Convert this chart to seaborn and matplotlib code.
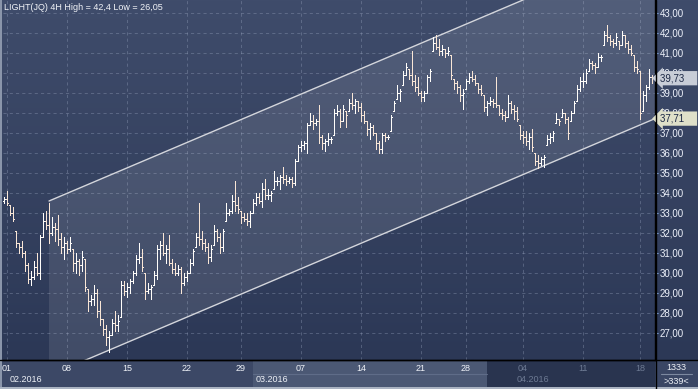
import numpy as np
import matplotlib.pyplot as plt
import seaborn as sns
from matplotlib.colors import LinearSegmentedColormap
from matplotlib.patches import Rectangle
from matplotlib.lines import Line2D
from matplotlib.transforms import blended_transform_factory

# 4H bars (one entry per bar)
highs = [
    33.8, 34.1, 33.4, 33.3, 32.1, 31.5, 31.6, 31.1, 30.5, 30.1,
    30.6, 31.0, 31.9, 33.0, 33.1, 33.5, 32.8, 32.5, 32.9, 32.0,
    31.8, 31.6, 31.8, 31.2, 31.0, 30.7, 31.1, 30.7, 29.2, 28.9,
    29.4, 29.2, 28.6, 27.7, 27.4, 27.1, 27.7, 28.1, 27.9, 29.6,
    29.6, 29.5, 29.7, 30.1, 30.9, 31.5, 31.2, 30.0, 29.5, 29.4,
    30.1, 31.4, 31.6, 32.0, 31.4, 31.9, 30.7, 30.5, 30.4, 30.3,
    30.0, 30.1, 30.7, 31.2, 32.0, 33.5, 32.1, 31.7, 31.5, 31.4,
    32.4, 32.2, 32.0, 32.2, 33.5, 33.2, 33.9, 34.6, 33.8, 33.1,
    33.0, 33.0, 33.1, 33.7, 34.0, 34.0, 34.5, 34.7, 34.2, 34.1,
    35.1, 34.8, 34.9, 35.3, 34.9, 34.8, 34.8, 35.7, 36.4, 36.6,
    36.6, 37.5, 38.0, 37.9, 37.7, 38.4, 36.9, 36.7, 37.0, 36.8,
    38.2, 38.4, 38.2, 38.4, 38.1, 38.7, 39.0, 38.7, 38.6, 38.5,
    38.1, 37.6, 37.5, 37.4, 37.0, 36.6, 37.0, 37.0, 36.9, 37.9,
    38.6, 39.4, 39.2, 40.1, 40.5, 40.2, 41.1, 39.9, 39.8, 39.1,
    39.1, 39.9, 40.2, 41.8, 41.9, 41.7, 41.4, 41.2, 41.3, 40.9,
    39.7, 39.6, 39.4, 39.2, 39.7, 40.0, 40.1, 39.9, 39.5, 39.4,
    38.9, 38.6, 38.8, 38.7, 39.8, 38.4, 38.2, 38.1, 38.9, 38.6,
    38.4, 38.3, 37.4, 37.1, 37.1, 37.0, 37.2, 36.0, 35.9, 35.8,
    35.9, 36.9, 37.0, 37.1, 38.0, 37.7, 38.2, 38.0, 37.8, 38.1,
    38.6, 39.4, 39.8, 40.0, 40.2, 40.7, 40.6, 40.5, 41.0, 40.9,
    42.1, 42.4, 41.9, 41.7, 42.0, 41.6, 42.1, 41.9, 41.6, 41.4,
    40.9, 40.6, 40.1, 39.1, 39.4, 40.2, 39.9,
]
lows = [
    33.5, 33.4, 32.9, 32.6, 31.3, 31.0, 30.8, 30.1, 29.5, 29.4,
    29.7, 29.9, 29.7, 31.8, 32.2, 31.5, 31.9, 31.6, 31.4, 31.0,
    30.7, 31.0, 31.1, 30.1, 30.0, 29.9, 30.1, 29.1, 28.1, 28.4,
    28.4, 27.8, 27.4, 26.9, 26.4, 26.05, 26.9, 27.1, 27.1, 27.8,
    28.9, 28.8, 29.0, 29.5, 29.9, 30.5, 30.1, 28.7, 29.0, 28.7,
    29.4, 29.7, 30.7, 30.9, 30.5, 30.4, 30.0, 29.9, 29.9, 29.0,
    29.4, 29.6, 30.0, 30.4, 31.3, 31.4, 31.2, 31.1, 30.5, 30.6,
    31.4, 31.6, 31.0, 31.1, 32.6, 32.9, 33.0, 33.1, 33.0, 32.5,
    32.6, 32.4, 32.3, 33.0, 33.4, 33.5, 33.3, 33.7, 33.7, 33.6,
    34.2, 34.4, 34.2, 34.5, 34.4, 34.5, 34.3, 34.4, 35.6, 36.1,
    36.2, 36.0, 37.4, 37.2, 37.4, 36.5, 36.2, 36.1, 36.4, 36.5,
    36.9, 37.9, 37.3, 37.6, 37.3, 38.1, 38.2, 38.0, 38.1, 37.6,
    37.5, 36.9, 36.7, 36.9, 36.2, 36.0, 36.0, 36.6, 36.7, 37.1,
    38.1, 38.7, 38.6, 39.4, 39.9, 39.7, 39.4, 39.1, 38.9, 38.6,
    38.6, 39.0, 39.6, 41.1, 41.2, 40.9, 40.9, 40.8, 40.9, 39.7,
    39.2, 39.0, 38.6, 38.2, 39.2, 39.5, 39.6, 39.4, 39.0, 38.9,
    38.1, 37.9, 38.4, 38.3, 38.3, 37.9, 37.7, 37.6, 37.8, 38.0,
    37.7, 37.6, 36.7, 36.5, 36.4, 36.2, 36.1, 35.4, 35.25, 35.4,
    35.3, 36.4, 36.5, 36.6, 37.5, 37.4, 37.8, 37.5, 36.7, 37.6,
    38.0, 38.6, 39.1, 39.3, 39.5, 40.1, 40.2, 40.0, 40.3, 40.6,
    41.4, 41.6, 41.4, 41.3, 41.4, 41.2, 41.4, 41.3, 41.0, 40.9,
    40.1, 40.0, 37.7, 38.1, 38.6, 39.2, 39.5,
]
closes = [
    33.7, 33.5, 33.0, 32.7, 31.5, 31.3, 31.0, 30.4, 29.7, 29.8,
    30.3, 30.0, 31.8, 32.6, 32.4, 32.0, 32.3, 32.2, 31.7, 31.3,
    31.5, 31.2, 31.5, 30.5, 30.6, 30.4, 30.8, 29.3, 28.6, 28.7,
    29.0, 28.1, 27.7, 27.2, 26.8, 26.9, 27.5, 27.4, 27.6, 29.4,
    29.1, 29.3, 29.6, 30.0, 30.7, 30.8, 30.3, 29.1, 29.2, 29.3,
    29.9, 31.2, 31.4, 31.0, 31.2, 30.5, 30.2, 30.0, 30.2, 29.5,
    29.8, 30.0, 30.5, 31.1, 31.8, 31.7, 31.5, 31.3, 30.8, 31.2,
    32.1, 31.8, 31.3, 32.1, 33.0, 33.1, 33.6, 33.4, 33.2, 32.8,
    32.7, 32.6, 33.0, 33.5, 33.8, 33.6, 34.2, 33.9, 33.9, 34.0,
    34.6, 34.6, 34.8, 34.7, 34.6, 34.7, 34.5, 35.6, 36.3, 36.4,
    36.5, 37.4, 37.6, 37.5, 37.6, 36.8, 36.5, 36.6, 36.7, 36.7,
    38.0, 38.1, 37.6, 38.2, 37.9, 38.5, 38.4, 38.6, 38.3, 37.9,
    37.6, 37.2, 37.3, 37.0, 36.5, 36.2, 36.9, 36.8, 36.8, 37.8,
    38.5, 39.0, 39.1, 39.9, 40.3, 39.9, 39.6, 39.3, 39.0, 38.8,
    39.0, 39.8, 40.1, 41.5, 41.3, 41.1, 41.2, 41.0, 41.1, 39.9,
    39.5, 39.3, 38.9, 39.0, 39.6, 39.8, 39.7, 39.5, 39.2, 39.0,
    38.3, 38.5, 38.6, 38.5, 38.4, 38.0, 37.9, 37.8, 38.5, 38.2,
    38.1, 37.7, 36.9, 36.8, 36.6, 36.8, 36.3, 35.6, 35.5, 35.7,
    35.8, 36.7, 36.8, 37.0, 37.7, 37.6, 38.0, 37.7, 37.0, 38.0,
    38.5, 39.2, 39.6, 39.6, 40.0, 40.5, 40.4, 40.3, 40.8, 40.8,
    41.9, 41.8, 41.6, 41.5, 41.8, 41.4, 41.9, 41.5, 41.2, 41.0,
    40.3, 40.2, 38.0, 38.9, 39.3, 39.8, 39.73,
]
first_open = 33.6

day_ticks = [1, 21, 41, 61, 79, 99, 119, 139, 154, 173, 193, 212]
day_labels = ["01", "08", "15", "22", "29", "07", "14", "21", "28", "04", "11", "18"]
month_bands = [0, 83, 161, 217]
month_label_x = [2, 84, 171]
month_labels = ["02.2016", "03.2016", "04.2016"]
month_colors = ["#3c4866", "#4b5874", "#29344f"]
price_ticks = list(range(27, 44))

# channel drawn on the chart: two parallel lines
channel_x = [15, 217]
channel_upper = [33.59, 46.44]
channel_lower = [24.86, 37.71]

title = "LIGHT(JQ) 4H High = 42,4 Low = 26,05"


def fmt(v):
    return f"{v:.2f}".replace(".", ",")


sns.set_theme(style="dark")
plt.rcParams["font.family"] = ["Liberation Sans", "DejaVu Sans"]

W, H = 698, 389
fig = plt.figure(figsize=(W / 100, H / 100), dpi=100, facecolor="#3a4664")

# background gradient behind chart and price scale
bg = fig.add_axes([0, 29 / H, 1, 360 / H])
cmap = LinearSegmentedColormap.from_list("bg", ["#3f4c6b", "#2c3856"])
bg.imshow(np.linspace(0, 1, 256).reshape(-1, 1), aspect="auto", cmap=cmap, extent=[0, 1, 0, 1])
bg.set_axis_off()

ax = fig.add_axes([3 / W, 29 / H, 652 / W, 360 / H])
ax.set_facecolor("none")

highs = np.array(highs)
lows = np.array(lows)
closes = np.array(closes)
n = len(highs)
idx = np.arange(n)

# channel fill + lines
ax.fill([channel_x[0], channel_x[1], channel_x[1], channel_x[0]],
        [channel_upper[0], channel_upper[1], channel_lower[1], channel_lower[0]],
        color="white", alpha=0.1, lw=0, zorder=0.6)
sns.lineplot(x=channel_x, y=channel_upper, ax=ax, color="#d4d6dc", lw=1.0, zorder=2)
sns.lineplot(x=channel_x, y=channel_lower, ax=ax, color="#d4d6dc", lw=1.0, zorder=2)

# OHLC bars
opens = np.clip(np.r_[first_open, closes[:-1]], lows, highs)
colors = np.where(closes < opens, "#f9e6d6", "#fffdfa")
ax.vlines(idx, lows, highs, colors=colors, lw=0.72, antialiased=False, zorder=3)
ax.hlines(opens, idx - 0.34, idx, colors=colors, lw=0.72, antialiased=False, zorder=3)
ax.hlines(closes, idx, idx + 0.34, colors=colors, lw=0.72, antialiased=False, zorder=3)

ax.set_xlim(-1 / 3, n)
ax.set_ylim(25.64, 43.64)

ax.set_yticks(price_ticks)
ax.set_yticklabels([fmt(p) for p in price_ticks])
ax.set_xticks(day_ticks)
ax.set_xticklabels(day_labels)
ax.set_xlabel("")
ax.set_ylabel("")
ax.grid(True, color="#9aa6c0", alpha=0.35, lw=0.75, ls=(0, (3, 3)))
ax.set_axisbelow(True)

ax.yaxis.tick_right()
ax.tick_params(axis="y", right=True, left=False, length=2, width=0.8, color="#86aee6",
               labelsize=7, labelcolor="#eef2fb", pad=1.5)
ax.tick_params(axis="x", bottom=True, length=0, labelsize=6.5, labelcolor="#eef1f7", pad=3.2)
for lab, t in zip(ax.get_xticklabels(), day_ticks):
    if t >= month_bands[2]:
        lab.set_color("#6d7a93")

for s in ["left", "top"]:
    ax.spines[s].set_visible(False)
for s in ["right", "bottom"]:
    ax.spines[s].set_color("black")
    ax.spines[s].set_linewidth(1)

# month strip under the chart
trans = blended_transform_factory(ax.transData, ax.transAxes)
strip_h = 29 / 360
for i in range(len(month_labels)):
    x0 = month_bands[i] if i > 0 else -2
    ax.add_patch(Rectangle((x0, -strip_h), month_bands[i + 1] - x0, strip_h, transform=trans,
                           fc=month_colors[i], lw=0, clip_on=False, zorder=-1))
    ax.text(month_label_x[i], -20 / 360, month_labels[i], transform=trans, ha="left", va="center",
            fontsize=6.5, color="#6d7a93" if i == 2 else "#eef1f7")
ax.add_line(Line2D([month_bands[1], month_bands[2]], [-14 / 360, -14 / 360], transform=trans,
                   color="#5f6c88", lw=0.8, clip_on=False))

# price tags on the scale (they sit over the 40,00 / 38,00 labels as in the source)
for val, fc in [(closes[-1], "#c8cdd7"), (channel_lower[1], "#dfe0c9")]:
    ax.annotate(fmt(val) + "    ", xy=(1, val), xycoords=("axes fraction", "data"), xytext=(3.5, 0),
                textcoords="offset points", ha="left", va="center", fontsize=7, color="#1b2744",
                bbox=dict(boxstyle="larrow,pad=0.22", fc=fc, ec="none"),
                annotation_clip=False, zorder=6)

ax.text(0.0015, 1 - 3 / 360, title, transform=ax.transAxes, ha="left", va="top",
        fontsize=6.5, color="#f2f4f8")

# corner box + frame
fig.text(676 / W, 1 - 368 / H, "1333", ha="center", va="center", fontsize=6.5, color="#eef1f7")
fig.text(676 / W, 1 - 381 / H, ">339<", ha="center", va="center", fontsize=6.5, color="#eef1f7")
fig.add_artist(Line2D([661 / W, 692 / W], [1 - 374 / H] * 2, color="#7d89a0", lw=0.8))
fig.add_artist(Line2D([0, 1], [29 / H] * 2, color="black", lw=1))
fig.add_artist(Line2D([655.5 / W] * 2, [0, 1], color="black", lw=1))
fig.add_artist(Rectangle((0, 0), 1.5 / W, 1, fc="#8a95aa", lw=0))
fig.add_artist(Rectangle((0, 0), 1, 2 / H, fc="#aab3c2", lw=0))

fig.savefig("out.png", dpi=100)
